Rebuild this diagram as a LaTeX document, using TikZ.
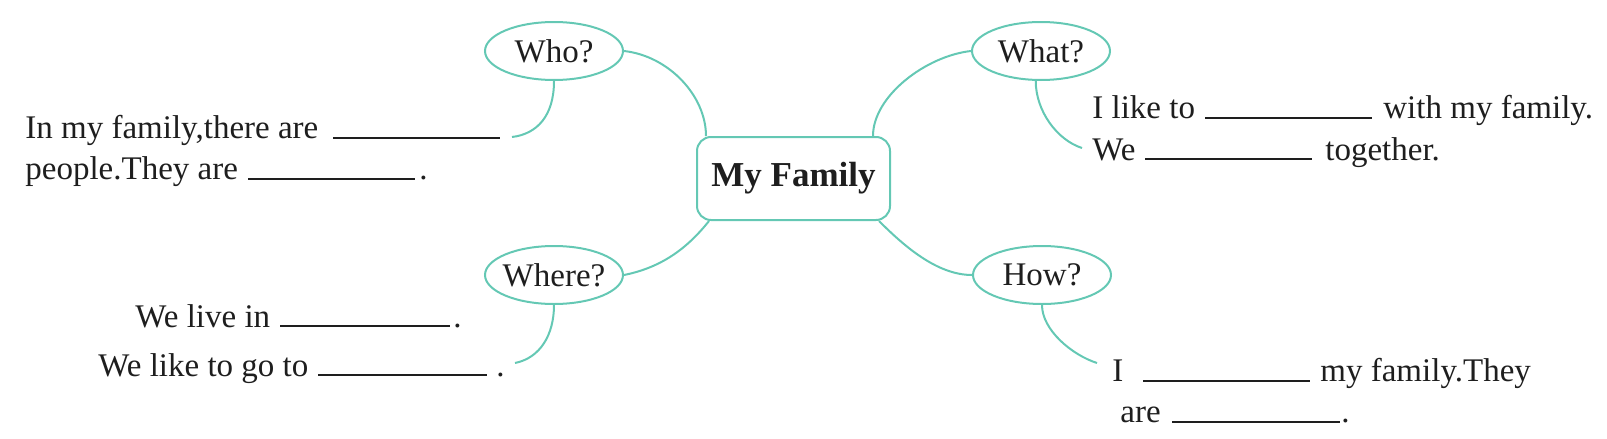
\documentclass[tikz,border=0pt]{standalone}
\usepackage{fontspec}
\setmainfont{Liberation Serif}
\usetikzlibrary{shapes.geometric,calc}
\definecolor{mint}{RGB}{100,200,180}
\definecolor{ink}{RGB}{30,30,30}
\begin{document}
\begin{tikzpicture}[x=0.5pt,y=-0.5pt,
  link/.style={draw=mint,line width=1pt},
  bubble/.style={ellipse,draw=mint,line width=1pt,minimum width=69pt,minimum height=29pt,inner sep=0pt,text=ink,font=\fontsize{16.5}{20}\selectfont},
  hub/.style={draw=mint,line width=1pt,rounded corners=7pt,minimum width=96.5pt,minimum height=41.5pt,text=ink,font=\fontsize{17.5}{20}\selectfont\bfseries},
  txt/.style={anchor=base west,inner sep=0pt,text=ink,font=\fontsize{16.5}{20}\selectfont},
  blank/.style={draw=ink,line width=1pt}]
\useasboundingbox (0,0) rectangle (1607,439);
% hub and bubbles
\node[hub] (hub) at (793.5,178.5) {My Family};
\node[bubble] (who) at (554,51) {\makebox[0pt]{Who?}};
\node[bubble] (what) at (1041,51) {\makebox[0pt]{What?}};
\node[bubble] (where) at (554,275) {\makebox[0pt]{Where?}};
\node[bubble] (how) at (1042,275) {\makebox[0pt]{How?}};
% tail end points
\coordinate (whoend) at (512,137);
\coordinate (whatend) at (1082,148);
\coordinate (whereend) at (515,363);
\coordinate (howend) at (1097,363);
% connectors to hub
\draw[link] (who.east) .. controls +(45,5) and +(0,-40) .. ([xshift=5pt]hub.north west);
\draw[link] (what.west) .. controls +(-45,5) and +(0,-40) .. ([xshift=-9pt]hub.north east);
\draw[link] (where.east) .. controls +(40,-8) and +(-20,25) .. ([xshift=6.5pt]hub.south west);
\draw[link] ([xshift=-6pt]hub.south east) .. controls +(25,25) and +(-35,0) .. (how.west);
% tails
\draw[link] (who.south) .. controls +(0,35) and +(25,-3) .. (whoend);
\draw[link] (what.260) .. controls +(0,30) and +(-25,-8) .. (whatend);
\draw[link] (where.south) .. controls +(0,30) and +(25,-5) .. (whereend);
\draw[link] (how.south) .. controls +(0,25) and +(-25,-8) .. (howend);
% Who text
\node[txt] (whoa) at (25,138) {In my family,there are};
\draw[blank] (333,138) -- (500,138);
\node[txt] (whob) at (25,179) {people.They are};
\draw[blank] (248,179) -- (415,179);
\node[txt] (whoc) at (419,179) {.};
% What text
\node[txt] (whata) at (1092,118) {I like to};
\draw[blank] (1205,118) -- (1372,118);
\node[txt] (whatb) at (1383,118) {with my family.};
\node[txt] (whatc) at (1092,160) {We};
\draw[blank] (1145,159) -- (1312,159);
\node[txt] (whatd) at (1325,160) {together.};
% Where text
\node[txt] (wherea) at (135,327) {We live in};
\draw[blank] (280,326) -- (450,326);
\node[txt] (whereb) at (453,327) {.};
\node[txt] (wherec) at (98,376) {We like to go to};
\draw[blank] (318,375) -- (487,375);
\node[txt] (whered) at (496,376) {.};
% How text
\node[txt] (howa) at (1112,381) {I};
\draw[blank] (1143,381) -- (1310,381);
\node[txt] (howb) at (1320,381) {my family.They};
\node[txt] (howc) at (1120,422) {are};
\draw[blank] (1172,422) -- (1340,422);
\node[txt] (howd) at (1341,422) {.};
\end{tikzpicture}
\end{document}
